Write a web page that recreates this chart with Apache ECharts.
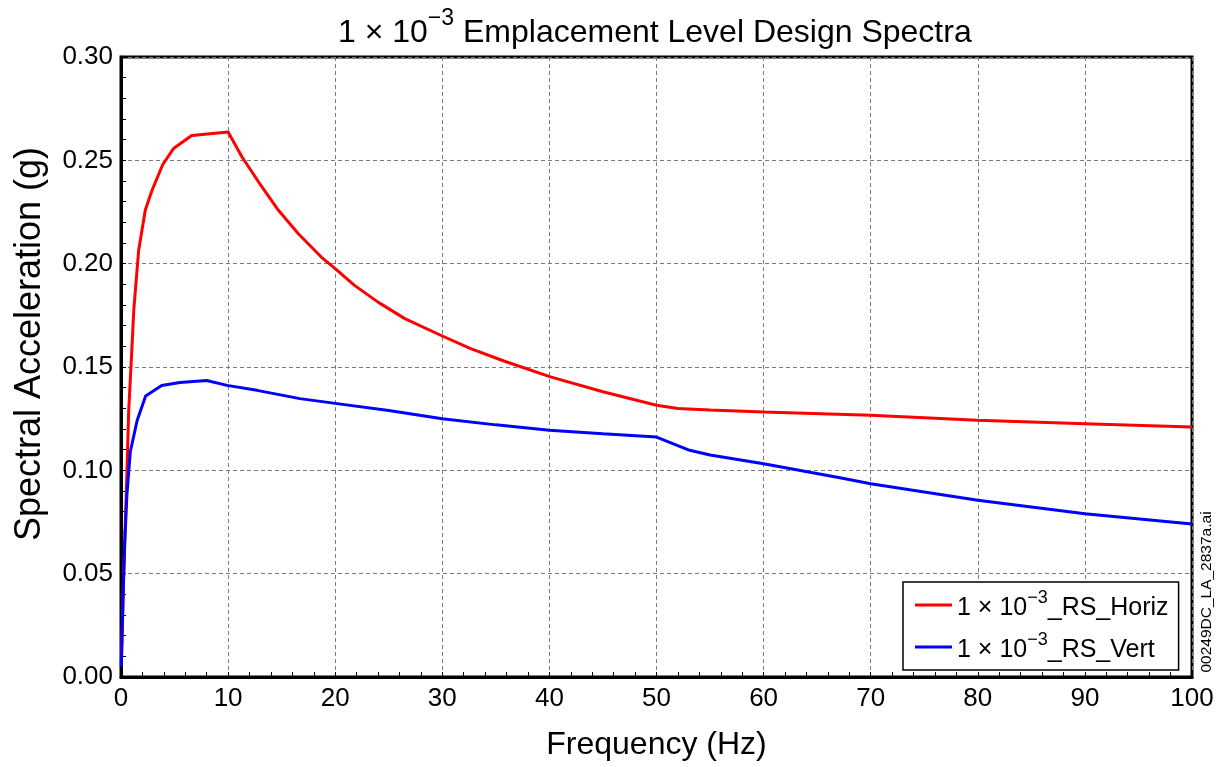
<!DOCTYPE html>
<html>
<head>
<meta charset="utf-8">
<title>Emplacement Level Design Spectra</title>
<script src="https://cdn.jsdelivr.net/npm/echarts@6/dist/echarts.min.js"></script>
<style>
  html, body { margin: 0; padding: 0; background: #fff; }
  #chart { width: 1225px; height: 767px; }
</style>
</head>
<body>
<div id="chart"></div>
<script>
// Horizontal response spectrum: frequency (Hz) and spectral acceleration (g)
const horizFreq = [0.02, 0.1, 0.25, 0.56, 0.72, 0.93, 1.2, 1.65, 2.27, 2.9, 3.9, 4.9, 6.6, 10.0,
  11.3, 12.85, 14.7, 16.56, 18.7, 20, 21.8, 24.0, 26.5, 30, 32.65, 35.75, 40.1, 45, 50, 52, 55, 60, 70, 80, 90, 100];
const horizAcc = [0.006, 0.02, 0.05, 0.10, 0.129, 0.15, 0.178, 0.2065, 0.226, 0.2355, 0.248, 0.2557, 0.262, 0.2637,
  0.2516, 0.2395, 0.2258, 0.2145, 0.2032, 0.1976, 0.1895, 0.1814, 0.1734, 0.1650, 0.1589, 0.1529, 0.1452, 0.138, 0.1315, 0.1299, 0.1292, 0.1282, 0.1266, 0.1242, 0.1226, 0.121];

// Vertical response spectrum
const vertFreq = [0.03, 0.2, 0.35, 0.55, 0.87, 1.5, 2.3, 3.8, 5.5, 8.0, 9.9, 12.7, 16.7, 20, 25, 30, 35,
  40, 45, 50, 53.1, 55, 60, 67, 70, 80, 90, 100];
const vertAcc = [0.005, 0.04, 0.065, 0.088, 0.109, 0.124, 0.136, 0.141, 0.1425, 0.1435, 0.1411, 0.1387, 0.1347, 0.1324, 0.129, 0.125, 0.122,
  0.1194, 0.1177, 0.1161, 0.1097, 0.1074, 0.1032, 0.0965, 0.0935, 0.0855, 0.079, 0.074];

// Series labels and axis text
const seriesNames = ['_RS_Horiz', '_RS_Vert'];
const seriesColors = ['#ff0000', '#0000ff'];
const xTicks = [0, 10, 20, 30, 40, 50, 60, 70, 80, 90, 100];
const yTicks = [0.00, 0.05, 0.10, 0.15, 0.20, 0.25, 0.30];

const FONT = '"Liberation Sans", Arial, Helvetica, sans-serif';
const pairs = (xs, ys) => xs.map((x, i) => [x, ys[i]]);

const chart = echarts.init(document.getElementById('chart'), null, { renderer: 'canvas' });

const gridLine = { show: true, lineStyle: { color: '#7a7a7a', width: 1, type: [4, 3] } };

chart.setOption({
  backgroundColor: '#ffffff',
  animation: false,
  title: {
    text: '{n|1 × 10}{s|−3}{n| Emplacement Level Design Spectra}',
    left: 333,
    top: 2,
    textStyle: {
      rich: {
        n: { fontFamily: FONT, fontSize: 32, fontWeight: 'normal', color: '#000', lineHeight: 42, verticalAlign: 'bottom' },
        s: { fontFamily: FONT, fontSize: 23, fontWeight: 'normal', color: '#000', verticalAlign: 'top' }
      }
    }
  },
  grid: {
    left: 121, right: 33, top: 57, bottom: 90,
    show: true, borderColor: '#000', borderWidth: 3, backgroundColor: 'transparent'
  },
  legend: {
    orient: 'vertical',
    left: 903, top: 582,
    padding: [7, 10, 7, 12],
    itemGap: 10,
    itemWidth: 37,
    itemHeight: 3,
    icon: 'rect',
    backgroundColor: '#fff',
    borderColor: '#000',
    borderWidth: 1.5,
    borderRadius: 0,
    data: seriesNames,
    formatter: name => '{n|1 × 10}{s|−3}{n|' + name + '}',
    textStyle: {
      rich: {
        n: { fontFamily: FONT, fontSize: 25, color: '#000', lineHeight: 32, verticalAlign: 'bottom' },
        s: { fontFamily: FONT, fontSize: 18, color: '#000', verticalAlign: 'top' }
      }
    }
  },
  xAxis: {
    type: 'value',
    min: xTicks[0], max: xTicks[xTicks.length - 1], interval: 10,
    name: 'Frequency (Hz)',
    nameLocation: 'middle',
    nameGap: 52,
    nameTextStyle: { fontFamily: FONT, fontSize: 32, color: '#000' },
    axisLine: { show: true, onZero: false, lineStyle: { color: '#000', width: 3 } },
    axisTick: { show: true, inside: true, length: 5, lineStyle: { color: '#000', width: 1 } },
    minorTick: { show: true, splitNumber: 5, length: 5, lineStyle: { color: '#000', width: 1 } },
    axisLabel: { fontFamily: FONT, fontSize: 26, color: '#000', margin: 9 },
    splitLine: gridLine
  },
  yAxis: {
    type: 'value',
    min: yTicks[0], max: yTicks[yTicks.length - 1], interval: 0.05,
    name: 'Spectral Acceleration (g)',
    nameLocation: 'middle',
    nameGap: 73,
    nameTextStyle: { fontFamily: FONT, fontSize: 36, color: '#000', padding: [0, 0, 0, 46] },
    axisLine: { show: true, lineStyle: { color: '#000', width: 3 } },
    axisTick: { show: true, inside: true, length: 5, lineStyle: { color: '#000', width: 1 } },
    minorTick: { show: true, splitNumber: 5, length: 5, lineStyle: { color: '#000', width: 1 } },
    axisLabel: { fontFamily: FONT, fontSize: 26, color: '#000', margin: 8, formatter: v => v.toFixed(2) },
    splitLine: gridLine
  },
  graphic: [{
    type: 'text',
    x: 1207, y: 592,
    rotation: Math.PI / 2,
    style: {
      text: '00249DC_LA_2837a.ai',
      fontFamily: FONT, fontSize: 15.5, fill: '#000',
      align: 'center', verticalAlign: 'middle'
    }
  }],
  series: [
    {
      name: seriesNames[0], type: 'line', data: pairs(horizFreq, horizAcc),
      showSymbol: false, symbol: 'none', smooth: false,
      lineStyle: { color: seriesColors[0], width: 3 }, itemStyle: { color: seriesColors[0] }, z: 3
    },
    {
      name: seriesNames[1], type: 'line', data: pairs(vertFreq, vertAcc),
      showSymbol: false, symbol: 'none', smooth: false,
      lineStyle: { color: seriesColors[1], width: 3 }, itemStyle: { color: seriesColors[1] }, z: 4
    }
  ]
});
</script>
</body>
</html>
